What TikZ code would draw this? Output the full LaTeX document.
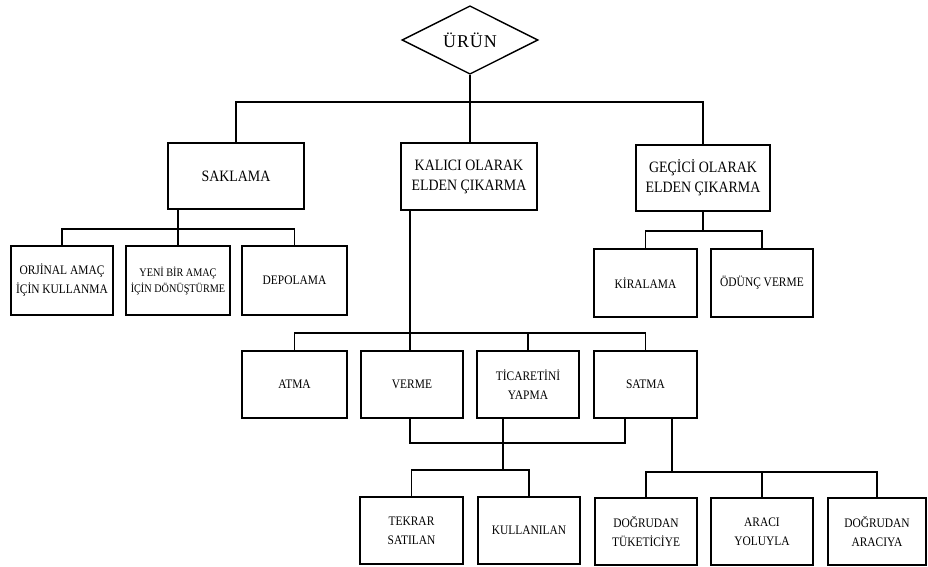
\documentclass[tikz,border=0pt]{standalone}
\usepackage{fontspec}
\setmainfont{Liberation Serif}[FakeStretch=0.88]
\newfontfamily\urunfont{Liberation Serif}[LetterSpace=5]
\usetikzlibrary{shapes.geometric}
\begin{document}
\begin{tikzpicture}[x=1pt,y=-1pt,
  conn/.style={line width=1.8pt},
  box/.style={draw,line width=1.8pt,align=center,inner sep=0pt,
    minimum width=103pt,minimum height=67pt,font=\fontsize{13}{19}\selectfont},
  bigbox/.style={box,minimum width=136pt,minimum height=66pt,font=\fontsize{15.8}{20}\selectfont},
  topdia/.style={draw,diamond,line width=1.4pt,inner sep=0pt,minimum width=136pt,minimum height=67pt,
    font=\urunfont\fontsize{18}{20}\selectfont}]
\useasboundingbox (0,0) rectangle (928,566);
% top
\node[topdia] (urun) at (470,40) {ÜRÜN};
% level 1
\node[bigbox] (saklama) at (236,176) {SAKLAMA};
\node[bigbox,minimum height=67pt] (kalici) at (469,176.5) {KALICI OLARAK\\ELDEN ÇIKARMA};
\node[bigbox,minimum width=134pt] (gecici) at (703,178) {GEÇİCİ OLARAK\\ELDEN ÇIKARMA};
% saklama children
\node[box,minimum width=102pt,minimum height=69pt] (orjinal) at (62,280.5) {ORJİNAL AMAÇ\\İÇİN KULLANMA};
\node[box,minimum width=104pt,minimum height=69pt,font=\fontsize{11.6}{16}\selectfont] (yeni) at (178,280.5) {YENİ BİR AMAÇ\\İÇİN DÖNÜŞTÜRME};
\node[box,minimum width=105pt,minimum height=69pt] (depolama) at (294.5,280.5) {DEPOLAMA};
% gecici children
\node[box,minimum height=68pt] (kiralama) at (645.5,283) {KİRALAMA};
\node[box,minimum width=102pt,minimum height=68pt] (odunc) at (762,283) {ÖDÜNÇ VERME};
% kalici children
\node[box,minimum width=105pt] (atma) at (294.5,384.5) {ATMA};
\node[box,minimum width=102pt] (verme) at (412,384.5) {VERME};
\node[box,minimum width=102pt] (ticaret) at (528,384.5) {TİCARETİNİ\\YAPMA};
\node[box] (satma) at (645.5,384.5) {SATMA};
% bottom row
\node[box] (tekrar) at (411.5,530.5) {TEKRAR\\SATILAN};
\node[box,minimum width=102pt] (kullanilan) at (529,530.5) {KULLANILAN};
\node[box,minimum width=102pt] (dtuk) at (646,531.5) {DOĞRUDAN\\TÜKETİCİYE};
\node[box,minimum width=102pt] (araci) at (762,531.5) {ARACI\\YOLUYLA};
\node[box,minimum width=98pt] (dar) at (877,531.5) {DOĞRUDAN\\ARACIYA};
% connectors
\coordinate (b1) at (470,102);
\draw[conn] (urun.south) -- (b1);
\draw[conn] (saklama.north) |- (b1) -| (gecici.north);
\draw[conn] (b1) -- (b1 |- kalici.north);

\coordinate (b2) at (178,229);
\draw[conn] (b2 |- saklama.south) -- (yeni.north);
\draw[conn] (orjinal.north) |- (b2) -| (depolama.north);

\coordinate (b3) at (703,231);
\draw[conn] (gecici.south) -- (b3);
\draw[conn] (kiralama.north) |- (b3) -| (odunc.north);

\coordinate (b4) at (410,333);
\draw[conn] (b4 |- kalici.south) -- (b4) -- (b4 |- verme.north);
\draw[conn] (atma.north) |- (b4) -| (satma.north);
\draw[conn] (ticaret.north |- b4) -- (ticaret.north);

\coordinate (v5) at (410,443);
\coordinate (s5) at (625,443);
\coordinate (b5) at (503,443);
\coordinate (b6) at (503,470);
\draw[conn] (v5 |- verme.south) -- (v5) -- (s5) -- (s5 |- satma.south);
\draw[conn] (b5 |- ticaret.south) -- (b6);
\draw[conn] (tekrar.north) |- (b6) -| (kullanilan.north);

\coordinate (b7) at (672,472);
\draw[conn] (b7 |- satma.south) -- (b7);
\draw[conn] (dtuk.north) |- (b7) -| (dar.north);
\draw[conn] (araci.north |- b7) -- (araci.north);
\end{tikzpicture}
\end{document}
